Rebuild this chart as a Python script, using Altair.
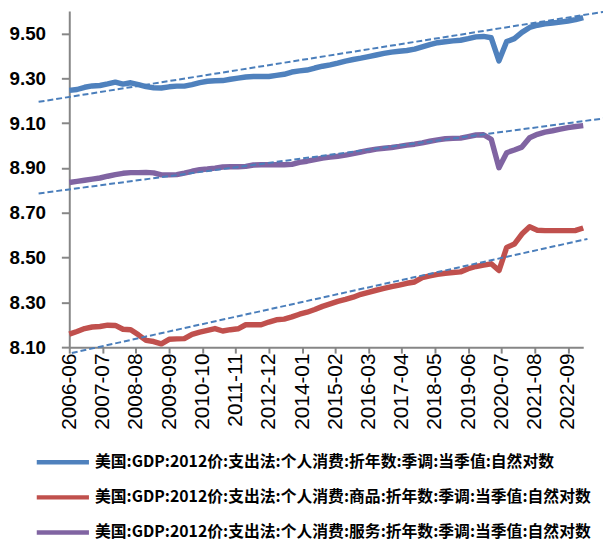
import altair as alt
import pandas as pd

# ---------------- data ----------------
S_TOTAL = "美国:GDP:2012价:支出法:个人消费:折年数:季调:当季值:自然对数"
S_GOODS = "美国:GDP:2012价:支出法:个人消费:商品:折年数:季调:当季值:自然对数"
S_SERV = "美国:GDP:2012价:支出法:个人消费:服务:折年数:季调:当季值:自然对数"
series_names = [S_TOTAL, S_GOODS, S_SERV]
series_colors = ["#4F81BD", "#C0504D", "#8064A2"]

# quarterly observations 2006-06 ... 2023-03
dates = pd.date_range("2006-06-01", periods=68, freq="3MS").strftime("%Y-%m-%d").tolist()

total = [9.246, 9.250, 9.260, 9.266, 9.268, 9.275, 9.283, 9.274, 9.280, 9.272,
         9.263, 9.258, 9.257, 9.262, 9.265, 9.265, 9.272, 9.281, 9.287, 9.289,
         9.290, 9.296, 9.301, 9.306, 9.308, 9.308, 9.308, 9.313, 9.318, 9.328,
         9.333, 9.337, 9.346, 9.354, 9.360, 9.368, 9.377, 9.384, 9.390, 9.397,
         9.404, 9.411, 9.417, 9.421, 9.424, 9.430, 9.440, 9.450, 9.459, 9.463,
         9.467, 9.470, 9.477, 9.485, 9.487, 9.481, 9.378, 9.464, 9.477, 9.505,
         9.527, 9.537, 9.543, 9.547, 9.551, 9.556, 9.562, 9.571]

goods = [8.158, 8.170, 8.183, 8.190, 8.192, 8.198, 8.197, 8.180, 8.178, 8.155,
         8.130, 8.125, 8.115, 8.135, 8.137, 8.138, 8.157, 8.167, 8.175, 8.183,
         8.172, 8.178, 8.182, 8.200, 8.200, 8.200, 8.212, 8.222, 8.225, 8.235,
         8.247, 8.256, 8.268, 8.282, 8.293, 8.304, 8.313, 8.323, 8.336, 8.345,
         8.354, 8.362, 8.370, 8.377, 8.385, 8.391, 8.410, 8.418, 8.425, 8.430,
         8.433, 8.436, 8.450, 8.460, 8.466, 8.472, 8.442, 8.545, 8.560, 8.605,
         8.637, 8.622, 8.620, 8.620, 8.620, 8.620, 8.621, 8.632]

services = [8.835, 8.840, 8.845, 8.850, 8.855, 8.863, 8.870, 8.876, 8.879, 8.879,
            8.880, 8.878, 8.869, 8.869, 8.870, 8.877, 8.885, 8.892, 8.895, 8.899,
            8.904, 8.905, 8.905, 8.907, 8.913, 8.914, 8.914, 8.914, 8.914, 8.916,
            8.925, 8.930, 8.937, 8.944, 8.948, 8.952, 8.957, 8.964, 8.971, 8.978,
            8.984, 8.988, 8.991, 8.996, 9.002, 9.006, 9.012, 9.019, 9.025, 9.030,
            9.032, 9.033, 9.040, 9.047, 9.048, 9.028, 8.901, 8.968, 8.980, 8.993,
            9.035, 9.050, 9.060, 9.066, 9.073, 9.080, 9.085, 9.089]

# linear trend lines (start / end)
trend_names = ["total", "goods", "services"]
trend_start_dates = ["2005-06-01", "2006-07-01", "2005-06-01"]
trend_end_dates = ["2023-11-01", "2023-04-20", "2023-11-01"]
trend_start_values = [9.195, 8.074, 8.786]
trend_end_values = [9.597, 8.583, 9.121]

x_tick_labels = ["2006-06", "2007-07", "2008-08", "2009-09", "2010-10", "2011-11",
                 "2012-12", "2014-01", "2015-02", "2016-03", "2017-04", "2018-05",
                 "2019-06", "2020-07", "2021-08", "2022-09"]
y_ticks = [8.10, 8.30, 8.50, 8.70, 8.90, 9.10, 9.30, 9.50]

# ---------------- tables ----------------
rows = []
for name, vals in zip(series_names, [total, goods, services]):
    for d, v in zip(dates, vals):
        rows.append({"date": d, "value": v, "series": name})
df = pd.DataFrame(rows)

trows = []
for n, d0, d1, v0, v1 in zip(trend_names, trend_start_dates, trend_end_dates,
                             trend_start_values, trend_end_values):
    trows.append({"date": d0, "value": v0, "trend": n})
    trows.append({"date": d1, "value": v1, "trend": n})
tdf = pd.DataFrame(trows)

x_vals = [alt.DateTime(year=int(s[:4]), month=int(s[5:]), date=1, utc=True) for s in x_tick_labels]

x_enc = alt.X(
    "date:T",
    scale=alt.Scale(type="utc", nice=False,
                    domain=[alt.DateTime(year=2006, month=6, date=1, utc=True),
                            alt.DateTime(year=2023, month=3, date=1, utc=True)]),
    axis=alt.Axis(values=x_vals, format="%Y-%m", labelAngle=-90, title=None,
                  labelFont="Liberation Sans", labelFontSize=21, labelColor="#000000",
                  tickSize=6, labelPadding=0, labelOverlap=False, labelFlush=False),
)
y_enc = alt.Y(
    "value:Q",
    scale=alt.Scale(domain=[8.1, 9.6], nice=False, zero=False),
    axis=alt.Axis(values=y_ticks, format=".2f", title=None,
                  labelFont="Liberation Sans", labelFontSize=19, labelFontWeight="bold",
                  labelColor="#000000", tickSize=8, labelPadding=16),
)

lines = alt.Chart(df).mark_line(strokeWidth=5.5, strokeJoin="round").encode(
    x=x_enc,
    y=y_enc,
    color=alt.Color(
        "series:N",
        scale=alt.Scale(domain=series_names, range=series_colors),
        legend=alt.Legend(
            title=None, orient="none", legendX=-17, legendY=446, direction="vertical",
            symbolType="M-3.3,0H3.3", symbolSize=256, symbolStrokeWidth=4.5,
            labelFont="Noto Sans CJK SC", labelFontSize=16, labelFontWeight="bold",
            labelColor="#000000", labelLimit=700, rowPadding=15.5, labelOffset=22,
            padding=0,
        ),
    ),
)

trends = alt.Chart(tdf).mark_line(
    strokeWidth=2, strokeDash=[6, 3], color="#4A7EBB"
).encode(
    x=x_enc,
    y=y_enc,
    detail="trend:N",
)

chart = alt.layer(lines, trends).properties(
    width=520, height=340,
    autosize=alt.AutoSizeParams(type="none"),
    padding={"left": 62, "top": 0, "right": 20, "bottom": 194},
).configure_view(stroke=None).configure_axis(
    grid=False, domainColor="#868686", domainWidth=2, tickColor="#868686", tickWidth=2
).configure_axisX(labelOverlap=False)

chart.save("out.html", embed_options={"renderer": "svg", "actions": False})
